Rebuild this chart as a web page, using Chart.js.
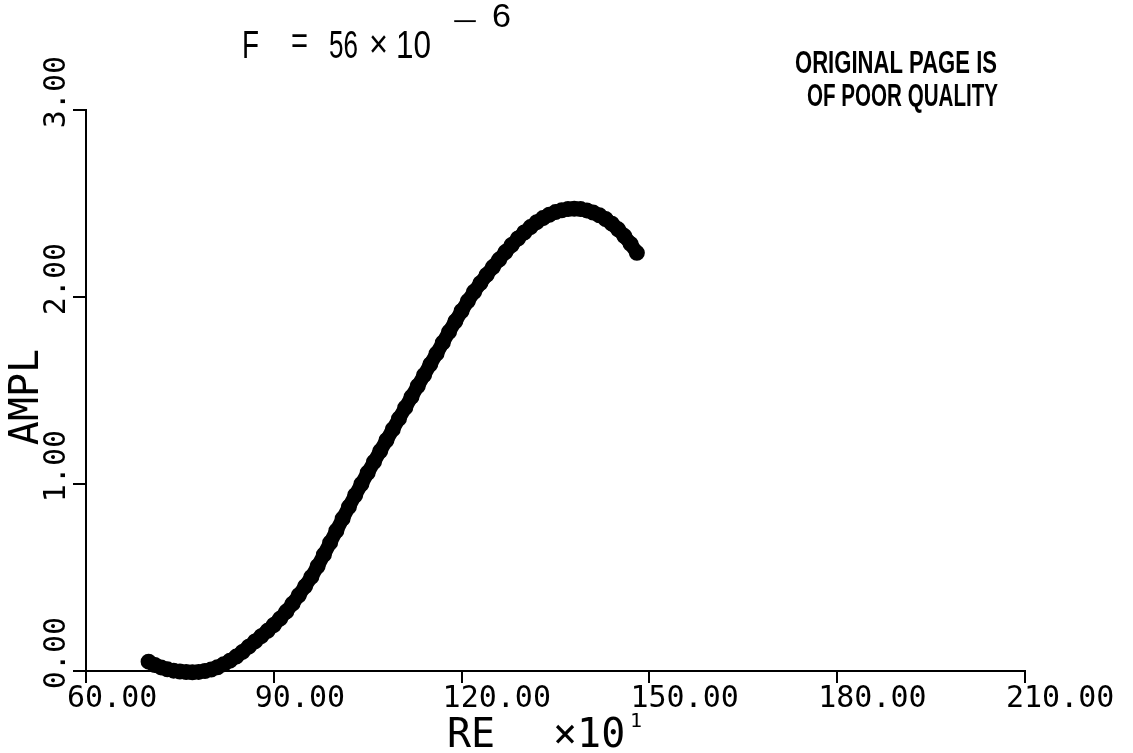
<!DOCTYPE html>
<html>
<head>
<meta charset="utf-8">
<script src="https://cdn.jsdelivr.net/npm/chart.js@4/dist/chart.umd.min.js"></script>
<style>
  html, body { margin: 0; padding: 0; background: #fff; }
  canvas { display: block; }
</style>
</head>
<body>
<canvas id="c" width="1133" height="753"></canvas>
<script>
// Reynolds number (in units of 10) along the run
const reValues = [
  70, 71, 72, 73, 74, 75, 76, 77, 78, 79,
  80, 81, 82, 83, 84, 85, 86, 87, 88, 89,
  90, 91, 92, 93, 94, 95, 96, 97, 98, 99,
  100, 101, 102, 103, 104, 105, 106, 107, 108, 109,
  110, 111, 112, 113, 114, 115, 116, 117, 118, 119,
  120, 121, 122, 123, 124, 125, 126, 127, 128, 129,
  130, 131, 132, 133, 134, 135, 136, 137, 138, 139,
  140, 141, 142, 143, 144, 145, 146, 147, 148
];

// Disturbance amplitude at each station
const amplValues = [
  0.050, 0.032, 0.019, 0.009, 0.002, -0.003, -0.006, -0.007, -0.005, 0.000,
  0.008, 0.020, 0.036, 0.055, 0.077, 0.102, 0.130, 0.158, 0.186, 0.215,
  0.246, 0.280, 0.318, 0.360, 0.405, 0.453, 0.503, 0.560, 0.622, 0.686,
  0.750, 0.815, 0.878, 0.940, 1.000, 1.060, 1.118, 1.176, 1.234, 1.292,
  1.350, 1.408, 1.466, 1.524, 1.582, 1.640, 1.697, 1.756, 1.814, 1.870,
  1.925, 1.978, 2.028, 2.074, 2.118, 2.160, 2.200, 2.240, 2.278, 2.313,
  2.345, 2.374, 2.400, 2.422, 2.440, 2.454, 2.464, 2.470, 2.472, 2.470,
  2.463, 2.452, 2.437, 2.417, 2.392, 2.362, 2.326, 2.284, 2.236
];

const xTickValues = [60, 90, 120, 150, 180, 210];
const xTickLabels = ['60.00', '90.00', '120.00', '150.00', '180.00', '210.00'];
const yTickValues = [0, 1, 2, 3];
const yTickLabels = ['0.00', '1.00', '2.00', '3.00'];

const points = reValues.map((re, i) => ({ x: re, y: amplValues[i] }));

const MONO = '"DejaVu Sans Mono", "Liberation Mono", monospace';
const HAND = '"Liberation Sans", "DejaVu Sans", sans-serif';

// Draw a string squeezed or stretched to span [x0, x1]
function fitText(ctx, text, x0, x1, y) {
  const w = ctx.measureText(text).width;
  ctx.save();
  ctx.translate(x0, y);
  ctx.scale((x1 - x0) / w, 1);
  ctx.fillText(text, 0, 0);
  ctx.restore();
}

// Captions, axis titles and the stamp in the upper right
const annotations = {
  id: 'annotations',
  afterDraw(chart) {
    const ctx = chart.ctx;
    ctx.save();
    ctx.fillStyle = '#000';

    // y-axis title, reading upward
    ctx.save();
    ctx.translate(28, 397);
    ctx.rotate(-Math.PI / 2);
    ctx.font = '40px ' + MONO;
    ctx.textAlign = 'center';
    ctx.textBaseline = 'middle';
    ctx.fillText('AMPL', 0, 0);
    ctx.restore();

    // x-axis title with its scale factor
    ctx.textBaseline = 'alphabetic';
    ctx.textAlign = 'left';
    ctx.font = '40px ' + MONO;
    ctx.fillText('RE', 447, 747);
    ctx.fillText('\u00d710', 553, 747);
    ctx.font = '20px ' + MONO;
    ctx.fillText('1', 630, 727);

    // frequency parameter
    ctx.font = '39px ' + HAND;
    fitText(ctx, 'F', 242, 259, 58);
    fitText(ctx, '=', 291, 308, 54);
    fitText(ctx, '56', 329, 358, 58);
    fitText(ctx, '\u00d7', 369, 388, 57);
    fitText(ctx, '10', 396, 431, 58);
    ctx.font = '26px ' + HAND;
    fitText(ctx, '\u2212', 452, 478, 30);
    ctx.font = '33px ' + HAND;
    fitText(ctx, '6', 492, 511, 27);

    // stamp
    ctx.font = 'bold 31px ' + HAND;
    fitText(ctx, 'ORIGINAL PAGE IS', 795, 997, 73);
    fitText(ctx, 'OF POOR QUALITY', 807, 998, 106);

    ctx.restore();
  }
};

new Chart(document.getElementById('c'), {
  type: 'scatter',
  data: {
    datasets: [{
      data: points,
      showLine: true,
      borderColor: '#000',
      borderWidth: 14,
      borderCapStyle: 'round',
      borderJoinStyle: 'round',
      pointRadius: 7,
      pointBorderWidth: 2,
      pointBackgroundColor: '#000',
      pointBorderColor: '#000',
      clip: false
    }]
  },
  options: {
    responsive: false,
    animation: false,
    events: [],
    layout: { padding: { left: 0, right: 108, top: 110, bottom: 0 } },
    plugins: { legend: { display: false }, tooltip: { enabled: false }, title: { display: false } },
    scales: {
      x: {
        type: 'linear',
        min: 60,
        max: 210,
        afterBuildTicks(scale) { scale.ticks = xTickValues.map(v => ({ value: v })); },
        afterFit(scale) { scale.height = 82; scale.paddingLeft = 0; scale.paddingRight = 0; },
        border: { display: true, color: '#000', width: 2 },
        grid: { drawOnChartArea: false, drawTicks: true, tickLength: 12, color: '#000', lineWidth: 2 },
        ticks: {
          autoSkip: false,
          maxRotation: 0,
          minRotation: 0,
          align: 'start',
          labelOffset: -19,
          padding: 1,
          color: '#000',
          font: { family: MONO, size: 30, lineHeight: 1 },
          callback: (v) => xTickLabels[xTickValues.indexOf(v)]
        }
      },
      y: {
        type: 'linear',
        min: 0,
        max: 3,
        afterBuildTicks(scale) { scale.ticks = yTickValues.map(v => ({ value: v })); },
        afterFit(scale) { scale.width = 86; scale.paddingTop = 0; scale.paddingBottom = 0; },
        border: { display: true, color: '#000', width: 2 },
        grid: { drawOnChartArea: false, drawTicks: true, tickLength: 13, color: '#000', lineWidth: 2 },
        ticks: {
          autoSkip: false,
          minRotation: 90,
          maxRotation: 90,
          crossAlign: 'near',
          labelOffset: -54,
          padding: 16,
          color: '#000',
          font: { family: MONO, size: 30, lineHeight: 1 },
          callback: (v) => yTickLabels[yTickValues.indexOf(v)]
        }
      }
    }
  },
  plugins: [annotations]
});
</script>
</body>
</html>
